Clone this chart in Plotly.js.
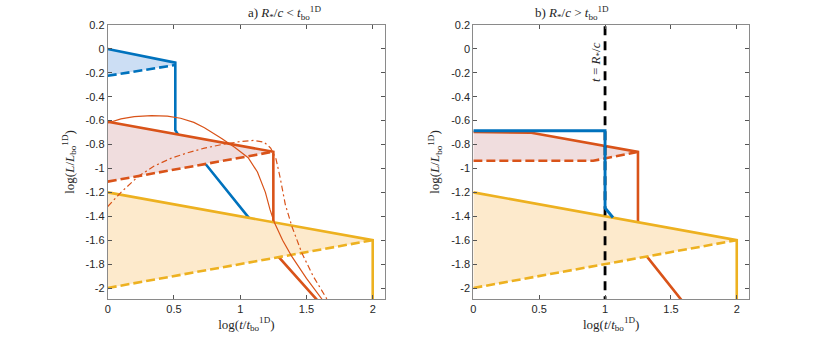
<!DOCTYPE html>
<html>
<head>
<meta charset="utf-8">
<script src="https://cdn.plot.ly/plotly-3.0.1.min.js"></script>
<style>
  html, body { margin: 0; padding: 0; background: #fff; }
  #plot { width: 830px; height: 338px; }
</style>
</head>
<body>
<div id="plot"></div>
<script>
// ---- data, panel a) R*/c < t_bo ----
var blueSolidXa = [0, 0.51, 0.51, 0.53, 0.74, 1.07];
var blueSolidYa = [0, -0.115, -0.68, -0.715, -0.965, -1.42];
var blueDashXa = [0, 0.51];
var blueDashYa = [-0.225, -0.135];

var orangeSolidXa = [0, 1.25, 1.25, 1.29, 1.58];
var orangeSolidYa = [-0.61, -0.86, -1.66, -1.74, -2.1];
var orangeDashXa = [0, 1.25];
var orangeDashYa = [-1.11, -0.86];

var arcSolidX = [0, 0.1, 0.2, 0.33, 0.45, 0.55, 0.65, 0.73, 0.86, 0.96, 1.06, 1.13, 1.19, 1.225, 1.257, 1.32, 1.389, 1.5, 1.615, 1.66];
var arcSolidY = [-0.62, -0.585, -0.567, -0.558, -0.563, -0.58, -0.615, -0.66, -0.75, -0.825, -0.91, -1.03, -1.2, -1.345, -1.45, -1.6, -1.736, -1.92, -2.09, -2.15];
var arcDashX = [0, 0.1, 0.23, 0.35, 0.48, 0.6, 0.73, 0.86, 1.0, 1.1, 1.18, 1.23, 1.27, 1.30, 1.34, 1.39, 1.465, 1.55, 1.653, 1.7];
var arcDashY = [-1.318, -1.2, -1.067, -0.98, -0.914, -0.87, -0.83, -0.80, -0.775, -0.765, -0.78, -0.83, -0.92, -1.07, -1.30, -1.485, -1.707, -1.9, -2.09, -2.17];

// ---- data, panel b) R*/c > t_bo ----
var blueSolidXb = [0, 1, 1, 1.06];
var blueSolidYb = [-0.685, -0.685, -1.33, -1.41];

var orangeSolidXb = [0, 0.43, 1.25, 1.25, 1.32, 1.58];
var orangeSolidYb = [-0.695, -0.70, -0.862, -1.66, -1.74, -2.1];
var orangeDashXb = [0, 0.91, 1.25];
var orangeDashYb = [-0.935, -0.936, -0.862];

var lightTravelX = [1, 1];
var lightTravelY = [0.19, -2.1];

// ---- yellow, same in both panels ----
var yellowSolidX = [0, 2, 2];
var yellowSolidY = [-1.2, -1.6, -2.1];
var yellowDashX = [0, 2];
var yellowDashY = [-2.0, -1.6];

// ticks
var xTicks = [0, 0.5, 1, 1.5, 2];
var xTickText = ["0", "0.5", "1", "1.5", "2"];
var yTicks = [0.2, 0, -0.2, -0.4, -0.6, -0.8, -1, -1.2, -1.4, -1.6, -1.8, -2];
var yTickText = ["0.2", "0", "-0.2", "-0.4", "-0.6", "-0.8", "-1", "-1.2", "-1.4", "-1.6", "-1.8", "-2"];

var blue = "#0072BD", orange = "#D95319", yellow = "#EDB120";
var blueFill = "rgb(204,222,244)", orangeFill = "rgb(240,221,222)", yellowFill = "rgb(253,234,204)";
var thick = 2.6;
var dashPat = "9px,4px";

// polygon between the top (solid) and bottom (dashed) curve
function band(topX, topY, botX, botY, n, color, ax) {
    var x = topX.slice(0, n).concat(botX.slice().reverse());
    var y = topY.slice(0, n).concat(botY.slice().reverse());
    return { x: x, y: y, fill: "toself", fillcolor: color, mode: "lines",
             line: { width: 0 }, xaxis: ax[0], yaxis: ax[1], hoverinfo: "skip" };
}
function line(x, y, color, w, dash, ax) {
    return { x: x, y: y, mode: "lines", line: { color: color, width: w, dash: dash || "solid" },
             xaxis: ax[0], yaxis: ax[1] };
}

var A = ["x", "y"], B = ["x2", "y2"];

var data = [
    // panel a
    band(blueSolidXa, blueSolidYa, blueDashXa, blueDashYa, 2, blueFill, A),
    line(blueSolidXa, blueSolidYa, blue, thick, null, A),
    line(blueDashXa, blueDashYa, blue, thick, dashPat, A),
    band(orangeSolidXa, orangeSolidYa, orangeDashXa, orangeDashYa, 2, orangeFill, A),
    line(orangeSolidXa, orangeSolidYa, orange, thick, null, A),
    line(orangeDashXa, orangeDashYa, orange, thick, dashPat, A),
    band(yellowSolidX, yellowSolidY, yellowDashX, yellowDashY, 2, yellowFill, A),
    line(yellowSolidX, yellowSolidY, yellow, thick, null, A),
    line(yellowDashX, yellowDashY, yellow, thick, dashPat, A),
    line(arcSolidX, arcSolidY, orange, 1.2, null, A),
    line(arcDashX, arcDashY, orange, 1.2, "6px,3px,2px,3px", A),
    // panel b
    band(orangeSolidXb, orangeSolidYb, orangeDashXb, orangeDashYb, 3, orangeFill, B),
    line(orangeSolidXb, orangeSolidYb, orange, thick, null, B),
    line(orangeDashXb, orangeDashYb, orange, thick, dashPat, B),
    band(yellowSolidX, yellowSolidY, yellowDashX, yellowDashY, 2, yellowFill, B),
    line(yellowSolidX, yellowSolidY, yellow, thick, null, B),
    line(yellowDashX, yellowDashY, yellow, thick, dashPat, B),
    line(lightTravelX, lightTravelY, "#000", 2.8, "9px,6px", B),
    line(blueSolidXb, blueSolidYb, blue, 2.9, null, B)
];

var tickFont = { family: "Liberation Sans, Arial, sans-serif", size: 11, color: "#262626" };
var serif = { family: "Liberation Serif, DejaVu Serif, serif", size: 13, color: "#262626" };
var xTitle = "log(<i>t</i>/<i>t</i><sub>bo</sub><sup>1D</sup>)";
var yTitle = "log(<i>L</i>/<i>L</i><sub>bo</sub><sup>1D</sup>)";

function xAxis(domain, anchor) {
    return { domain: domain, anchor: anchor, range: [0, 2.093], tickvals: xTicks, ticktext: xTickText,
             ticks: "inside", ticklen: 4, tickcolor: "#555", showline: true, linecolor: "#8a8a8a",
             linewidth: 1, mirror: "ticks", showgrid: false, zeroline: false, tickfont: tickFont,
             title: { text: xTitle, font: serif, standoff: 4 } };
}
function yAxis(anchor) {
    return { domain: [0, 1], anchor: anchor, range: [-2.092, 0.2], tickvals: yTicks, ticktext: yTickText,
             ticks: "inside", ticklen: 4, tickcolor: "#555", showline: true, linecolor: "#8a8a8a",
             linewidth: 1, mirror: "ticks", showgrid: false, zeroline: false, tickfont: tickFont,
             title: { text: yTitle, font: serif, standoff: 8 } };
}

var layout = {
    width: 830, height: 338,
    margin: { l: 0, r: 0, t: 25, b: 39 },
    paper_bgcolor: "#fff", plot_bgcolor: "#fff",
    showlegend: false,
    xaxis: xAxis([0.1298, 0.4639], "y"),
    yaxis: yAxis("x"),
    xaxis2: xAxis([0.5703, 0.9024], "y2"),
    yaxis2: yAxis("x2"),
    annotations: [
        { text: "a) <i>R</i><sub>*</sub>/<i>c</i> &lt; <i>t</i><sub>bo</sub><sup>1D</sup>",
          xref: "paper", yref: "paper", x: 0.2968, y: 1, yanchor: "bottom", yshift: 1,
          showarrow: false, font: serif },
        { text: "b) <i>R</i><sub>*</sub>/<i>c</i> &gt; <i>t</i><sub>bo</sub><sup>1D</sup>",
          xref: "paper", yref: "paper", x: 0.7363, y: 1, yanchor: "bottom", yshift: 1,
          showarrow: false, font: serif },
        { text: "<i>t</i> = <i>R</i><sub>*</sub>/<i>c</i>", xref: "x2", yref: "y2", x: 0.93, y: -0.11,
          textangle: -90, showarrow: false, font: serif, bgcolor: "rgba(0,0,0,0)" }
    ]
};

Plotly.newPlot("plot", data, layout, { displayModeBar: false });
</script>
</body>
</html>
